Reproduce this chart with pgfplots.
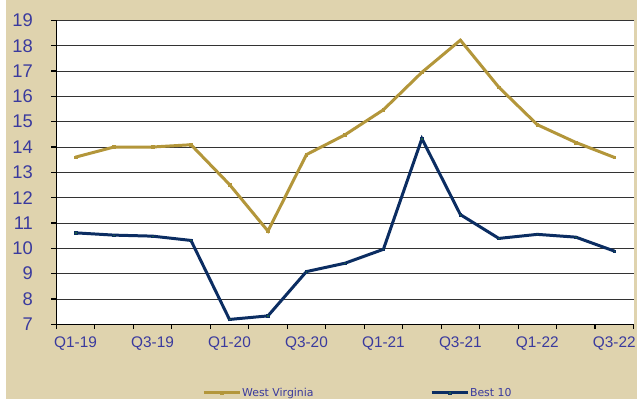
\documentclass[border=0pt]{standalone}
\usepackage{pgfplots}
\pgfplotsset{compat=1.18}
\usepackage{fontspec}
\setmainfont{Liberation Sans}
\newfontfamily\legfont{DejaVu Sans}
\definecolor{tanbg}{HTML}{DFD3AE}
\definecolor{lbl}{RGB}{58,58,158}
\definecolor{wv}{HTML}{B3963A}
\definecolor{navy}{HTML}{0B2D62}
\definecolor{mk}{HTML}{1D5C46}
\begin{document}
\begin{tikzpicture}
\fill[tanbg] (0,0) rectangle (639bp,401bp);
\fill[white] (0,0) rectangle (6bp,401bp);
\begin{axis}[
  at={(56.5bp,75.5bp)}, anchor=south west,
  scale only axis, width=579.5bp, height=305bp,
  axis background/.style={fill=white},
  xmin=-0.5, xmax=14.5, ymin=7, ymax=19,
  axis x line*=bottom, axis y line*=left,
  axis line style={black, line width=1.5bp},
  ytick={7,...,19},
  ymajorgrids, grid style={black!80, line width=0.8bp},
  xtick={-0.5,0.5,...,14.5}, xticklabels={},
  extra x ticks={0,2,...,14},
  extra x tick labels={Q1-19,Q3-19,Q1-20,Q3-20,Q1-21,Q3-21,Q1-22,Q3-22},
  extra x tick style={major tick length=0pt, grid=none},
  tick align=outside, major tick length=5bp,
  tick style={black, line width=1.2bp},
  /pgf/number format/assume math mode=true,
  yticklabel style={font=\fontsize{18.5}{18.5}\selectfont, text=lbl, xshift=-15bp},
  xticklabel style={font=\fontsize{15.5}{15.5}\selectfont, text=lbl, yshift=-9bp},
  legend columns=2,
  legend style={at={(0.2526,-0.226)}, anchor=west, draw=none, fill=none,
    inner sep=0pt, text=lbl,
    nodes={inner sep=1bp},
    /tikz/every even column/.append style={column sep=116bp}},
  legend image code/.code={\draw[mark repeat=2,mark phase=2,#1] plot coordinates {(0bp,0bp) (18bp,0bp) (36bp,0bp)};},
  clip=false,
]
\addplot[wv, line width=3bp, mark=square*, mark size=1.3bp, mark options={fill=wv, draw=wv, line width=0.5bp}] coordinates {
(0,13.6) (1,14.0) (2,14.0) (3,14.09) (4,12.52) (5,10.68) (6,13.7) (7,14.48) (8,15.47) (9,16.95) (10,18.22) (11,16.36) (12,14.88) (13,14.18) (14,13.59)
};
\addlegendentry{\legfont\fontsize{11}{13}\selectfont West Virginia}
\addplot[navy, line width=3bp, mark=square*, mark size=1.3bp, mark options={fill=mk, draw=navy, line width=0.5bp}] coordinates {
(0,10.61) (1,10.52) (2,10.48) (3,10.31) (4,7.19) (5,7.33) (6,9.08) (7,9.41) (8,9.96) (9,14.33) (10,11.33) (11,10.39) (12,10.55) (13,10.44) (14,9.89)
};
\addlegendentry{\legfont\fontsize{11}{13}\selectfont Best 10}
\end{axis}
\end{tikzpicture}
\end{document}
